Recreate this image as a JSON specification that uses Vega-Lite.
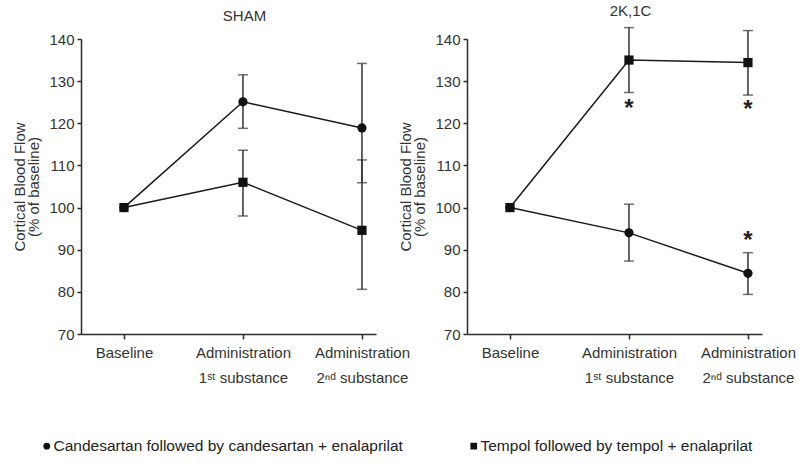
{
  "$schema": "https://vega.github.io/schema/vega-lite/v6.json",
  "padding": {"left": 12, "top": 3, "right": 5, "bottom": 5},
  "background": "white",
  "config": {
    "font": "Liberation Sans",
    "view": {"stroke": null},
    "axis": {
      "grid": false,
      "domainColor": "#2a2a2a",
      "domainWidth": 1.5,
      "tickColor": "#2a2a2a",
      "tickWidth": 1.5,
      "tickSize": 5,
      "labelColor": "#333333",
      "labelFontSize": 15,
      "titleColor": "#333333",
      "titleFontSize": 15,
      "titleFontWeight": "normal"
    },
    "title": {"fontSize": 15, "fontWeight": "normal", "color": "#333333"}
  },
  "datasets": {
    "pts": [
      {"panel": "SHAM", "series": "Candesartan followed by candesartan + enalaprilat", "idx": 0, "value": 100, "lo": null, "hi": null},
      {"panel": "SHAM", "series": "Candesartan followed by candesartan + enalaprilat", "idx": 1, "value": 125.1, "lo": 118.8, "hi": 131.5},
      {"panel": "SHAM", "series": "Candesartan followed by candesartan + enalaprilat", "idx": 2, "value": 118.9, "lo": 105.9, "hi": 134.2},
      {"panel": "SHAM", "series": "Tempol followed by tempol + enalaprilat", "idx": 0, "value": 100, "lo": null, "hi": null},
      {"panel": "SHAM", "series": "Tempol followed by tempol + enalaprilat", "idx": 1, "value": 106.0, "lo": 98.0, "hi": 113.6},
      {"panel": "SHAM", "series": "Tempol followed by tempol + enalaprilat", "idx": 2, "value": 94.6, "lo": 80.6, "hi": 111.3},
      {"panel": "2K,1C", "series": "Candesartan followed by candesartan + enalaprilat", "idx": 0, "value": 100, "lo": null, "hi": null},
      {"panel": "2K,1C", "series": "Candesartan followed by candesartan + enalaprilat", "idx": 1, "value": 94.0, "lo": 87.3, "hi": 100.8},
      {"panel": "2K,1C", "series": "Candesartan followed by candesartan + enalaprilat", "idx": 2, "value": 84.4, "lo": 79.4, "hi": 89.3},
      {"panel": "2K,1C", "series": "Tempol followed by tempol + enalaprilat", "idx": 0, "value": 100, "lo": null, "hi": null},
      {"panel": "2K,1C", "series": "Tempol followed by tempol + enalaprilat", "idx": 1, "value": 135.0, "lo": 127.3, "hi": 142.7},
      {"panel": "2K,1C", "series": "Tempol followed by tempol + enalaprilat", "idx": 2, "value": 134.4, "lo": 126.7, "hi": 142.0}
    ],
    "stars": [
      {"panel": "2K,1C", "idx": 1, "value": 124.3, "label": "*"},
      {"panel": "2K,1C", "idx": 2, "value": 124.0, "label": "*"},
      {"panel": "2K,1C", "idx": 2, "value": 93.1, "label": "*"}
    ]
  },
  "bounds": "flush",
  "spacing": 91,
  "resolve": {"scale": {"shape": "independent"}, "legend": {"shape": "independent"}},
  "hconcat": [
    {
      "width": 295,
      "height": 295,
      "title": {"text": "SHAM", "dx": 16, "offset": 8},
      "data": {"name": "pts"},
      "transform": [{"filter": "datum.panel == 'SHAM'"}],
      "encoding": {
        "x": {
          "field": "idx", "type": "quantitative",
          "scale": {"domain": [-0.361, 2.118], "nice": false, "zero": false},
          "axis": {
            "title": null, "values": [0, 1, 2], "labelPadding": 6, "labelLineHeight": 25,
            "labelExpr": "datum.value == 0 ? 'Baseline' : datum.value == 1 ? ['Administration', '1ˢᵗ substance'] : ['Administration', '2ⁿᵈ substance']"
          }
        },
        "y": {
          "field": "value", "type": "quantitative",
          "scale": {"domain": [70, 140], "nice": false, "zero": false},
          "axis": {"title": ["Cortical Blood Flow", "(% of baseline)"], "values": [70, 80, 90, 100, 110, 120, 130, 140], "titlePadding": 7, "titleLineHeight": 14, "labelPadding": 3, "tickSize": 4}
        }
      },
      "layer": [
        {"transform": [{"filter": "datum.lo != null"}], "mark": {"type": "rule", "color": "#333333", "strokeWidth": 1.5, "clip": false}, "encoding": {"y": {"field": "lo", "type": "quantitative"}, "y2": {"field": "hi"}}},
        {"transform": [{"filter": "datum.lo != null"}], "mark": {"type": "tick", "orient": "horizontal", "color": "#333333", "thickness": 1.5, "size": 10}, "encoding": {"y": {"field": "lo", "type": "quantitative"}}},
        {"transform": [{"filter": "datum.lo != null"}], "mark": {"type": "tick", "orient": "horizontal", "color": "#333333", "thickness": 1.5, "size": 10}, "encoding": {"y": {"field": "hi", "type": "quantitative"}}},
        {"mark": {"type": "line", "color": "#1a1a1a", "strokeWidth": 1.5}, "encoding": {"detail": {"field": "series"}}},
        {"mark": {"type": "point", "filled": true, "opacity": 1, "color": "#111111", "size": 85},
         "encoding": {
           "shape": {"field": "series", "type": "nominal",
             "scale": {"domain": ["Candesartan followed by candesartan + enalaprilat", "Tempol followed by tempol + enalaprilat"], "range": ["circle", "square"]},
             "legend": {"orient": "none", "legendX": -42, "legendY": 399, "direction": "horizontal", "title": null, "columnPadding": 63, "labelLimit": 0, "labelFontSize": 15.5, "labelColor": "#222222", "labelOffset": -1, "symbolSize": 45, "symbolFillColor": "#111111", "symbolStrokeColor": "#111111", "symbolStrokeWidth": 0}}
         }}
      ]
    },
    {
      "width": 295,
      "height": 295,
      "title": {"text": "2K,1C", "dx": 16, "offset": 8},
      "encoding": {
        "x": {
          "field": "idx", "type": "quantitative",
          "scale": {"domain": [-0.361, 2.118], "nice": false, "zero": false},
          "axis": {
            "title": null, "values": [0, 1, 2], "labelPadding": 6, "labelLineHeight": 25,
            "labelExpr": "datum.value == 0 ? 'Baseline' : datum.value == 1 ? ['Administration', '1ˢᵗ substance'] : ['Administration', '2ⁿᵈ substance']"
          }
        },
        "y": {
          "field": "value", "type": "quantitative",
          "scale": {"domain": [70, 140], "nice": false, "zero": false},
          "axis": {"title": ["Cortical Blood Flow", "(% of baseline)"], "values": [70, 80, 90, 100, 110, 120, 130, 140], "titlePadding": 7, "titleLineHeight": 14, "labelPadding": 3, "tickSize": 4}
        }
      },
      "layer": [
        {"data": {"name": "pts"}, "transform": [{"filter": "datum.panel == '2K,1C' && datum.lo != null"}], "mark": {"type": "rule", "color": "#333333", "strokeWidth": 1.5, "clip": false}, "encoding": {"y": {"field": "lo", "type": "quantitative"}, "y2": {"field": "hi"}}},
        {"data": {"name": "pts"}, "transform": [{"filter": "datum.panel == '2K,1C' && datum.lo != null"}], "mark": {"type": "tick", "orient": "horizontal", "color": "#333333", "thickness": 1.5, "size": 10}, "encoding": {"y": {"field": "lo", "type": "quantitative"}}},
        {"data": {"name": "pts"}, "transform": [{"filter": "datum.panel == '2K,1C' && datum.lo != null"}], "mark": {"type": "tick", "orient": "horizontal", "color": "#333333", "thickness": 1.5, "size": 10}, "encoding": {"y": {"field": "hi", "type": "quantitative"}}},
        {"data": {"name": "pts"}, "transform": [{"filter": "datum.panel == '2K,1C'"}], "mark": {"type": "line", "color": "#1a1a1a", "strokeWidth": 1.5}, "encoding": {"detail": {"field": "series"}}},
        {"data": {"name": "pts"}, "transform": [{"filter": "datum.panel == '2K,1C'"}], "mark": {"type": "point", "filled": true, "opacity": 1, "color": "#111111", "size": 85},
         "encoding": {
           "shape": {"field": "series", "type": "nominal",
             "scale": {"domain": ["Candesartan followed by candesartan + enalaprilat", "Tempol followed by tempol + enalaprilat"], "range": ["circle", "square"]}, "legend": null}
         }},
        {"data": {"name": "stars"}, "mark": {"type": "text", "fontSize": 24, "fontWeight": "bold", "color": "#222222", "baseline": "alphabetic", "dy": 11}, "encoding": {"text": {"field": "label"}}}
      ]
    }
  ]
}
